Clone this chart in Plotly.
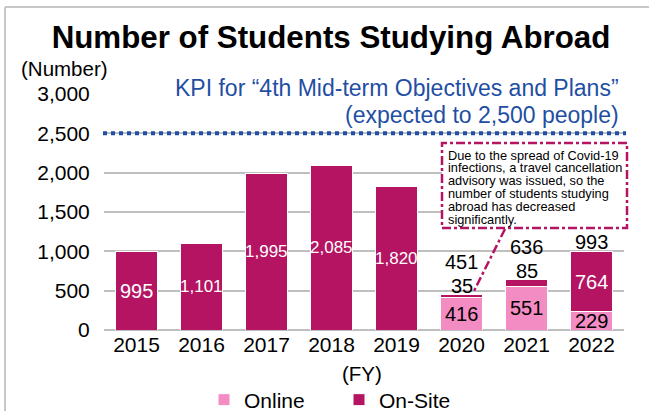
import plotly.graph_objects as go

years = ["2015", "2016", "2017", "2018", "2019", "2020", "2021", "2022"]
online = [0, 0, 0, 0, 0, 416, 551, 229]
onsite = [995, 1101, 1995, 2085, 1820, 35, 85, 764]
totals = [995, 1101, 1995, 2085, 1820, 451, 636, 993]
kpi_target = 2500
y_ticks = [0, 500, 1000, 1500, 2000, 2500, 3000]

note_lines = [
    "Due to the spread of Covid-19",
    "infections, a travel cancellation",
    "advisory was issued, so the",
    "number of students studying",
    "abroad has decreased",
    "significantly.",
]

MAGENTA = "rgb(180,20,98)"
PINK = "rgb(244,140,196)"
BLUE = "#1F4FA3"
GRID = "#BFBFBF"
FONT = "Arial, Liberation Sans, sans-serif"

# plot-area pixel geometry (for decorative items only)
L, R, T, B = 104, 624, 94, 330
W, H = R - L, B - T


def pxx(x):
    return (x - L) / W


def pxy(y):
    return (B - y) / H


fig = go.Figure()
fig.add_trace(go.Bar(x=years, y=online, name="Online",
                     marker=dict(color=PINK, line=dict(color="white", width=1))))
fig.add_trace(go.Bar(x=years, y=onsite, name="On-Site",
                     marker=dict(color=MAGENTA, line=dict(color="white", width=1))))

ann = []
for i, yr in enumerate(years):
    # category index i is used as annotation x (numeric strings would be read as indices)
    if online[i] > 0:
        ann.append(dict(x=i, y=online[i] / 2, text=str(online[i]), showarrow=False,
                        font=dict(size=20, color="black", family=FONT)))
    if onsite[i] >= 500:
        txt = f"{onsite[i]:,}"
        ann.append(dict(x=i, y=online[i] + onsite[i] / 2, text=txt, showarrow=False,
                        font=dict(size=20 if len(txt) <= 3 else 17, color="white", family=FONT)))
        if online[i] > 0:
            ann.append(dict(x=i, y=totals[i], text=f"{totals[i]:,}", showarrow=False, yanchor="middle",
                            yshift=10, font=dict(size=20, color="black", family=FONT)))
    else:
        ann.append(dict(x=i, y=totals[i], text=str(onsite[i]), showarrow=False, yanchor="middle",
                        yshift=9, font=dict(size=20, color="black", family=FONT)))
        ann.append(dict(x=i, y=totals[i], text=f"{totals[i]:,}", showarrow=False, yanchor="middle",
                        yshift=33, font=dict(size=20, color="black", family=FONT)))

# KPI text
ann.append(dict(xref="paper", yref="paper", x=pxx(621), y=pxy(88), xanchor="right", yanchor="middle",
                text="KPI for \u201c4th Mid-term Objectives and Plans\u201d", showarrow=False,
                font=dict(size=23, color=BLUE, family=FONT)))
ann.append(dict(xref="paper", yref="paper", x=pxx(621), y=pxy(115), xanchor="right", yanchor="middle",
                text="(expected to 2,500 people)", showarrow=False,
                font=dict(size=23, color=BLUE, family=FONT)))

# note text
for k, line in enumerate(note_lines):
    ann.append(dict(xref="paper", yref="paper", x=pxx(446), y=pxy(155 + 12.8 * k), xanchor="left",
                    yanchor="middle", text=line, showarrow=False,
                    font=dict(size=12.8, color="black", family=FONT)))

# axis captions
ann.append(dict(xref="paper", yref="paper", x=pxx(64), y=pxy(68), text="(Number)", showarrow=False,
                xanchor="center", yanchor="middle", font=dict(size=20.5, color="black", family=FONT)))
ann.append(dict(xref="paper", yref="paper", x=pxx(362), y=pxy(373), text="(FY)", showarrow=False,
                xanchor="center", yanchor="middle", font=dict(size=20.5, color="black", family=FONT)))

shapes = [
    # KPI dotted line
    dict(type="line", xref="paper", yref="y", x0=pxx(103), x1=pxx(626), y0=kpi_target, y1=kpi_target,
         line=dict(color=BLUE, width=4, dash="dot"), layer="above"),
    # note box
    dict(type="rect", xref="paper", yref="paper", x0=pxx(442), x1=pxx(627), y0=pxy(228), y1=pxy(143),
         line=dict(color=MAGENTA, width=2.5, dash="dashdot"), fillcolor="white", layer="above"),
    # leader line
    dict(type="line", xref="paper", yref="paper", x0=pxx(505), y0=pxy(229), x1=pxx(474), y1=pxy(291),
         line=dict(color=MAGENTA, width=2.5, dash="dashdot")),
    # outer frame
    dict(type="line", xref="paper", yref="paper", x0=pxx(5), x1=pxx(5), y0=pxy(7), y1=pxy(420),
         line=dict(color="#C8C8C8", width=2)),
    dict(type="line", xref="paper", yref="paper", x0=pxx(5), x1=pxx(660), y0=pxy(7), y1=pxy(7),
         line=dict(color="#C8C8C8", width=2)),
]

fig.update_layout(
    width=649, height=411,
    margin=dict(l=L, r=649 - R, t=T, b=411 - B, autoexpand=False),
    paper_bgcolor="white", plot_bgcolor="white",
    barmode="stack", bargap=0.34,
    font=dict(family=FONT, color="black"),
    title=dict(text="<b>Number of Students Studying Abroad</b>", x=331 / 649, xanchor="center",
               y=1 - 37 / 411, yanchor="middle",
               font=dict(size=31.3, color="black", family=FONT)),
    xaxis=dict(type="category", categoryorder="array", categoryarray=years, range=[-0.5, 7.5],
               showgrid=False, showline=False, ticks="", tickfont=dict(size=21, color="black")),
    yaxis=dict(range=[0, 3000], tickvals=y_ticks, tickformat=",", showgrid=True, gridcolor=GRID,
               gridwidth=2, zeroline=True, zerolinecolor=GRID, zerolinewidth=2, showline=False,
               ticks="outside", ticklen=9, tickcolor="rgba(0,0,0,0)",
               tickfont=dict(size=21, color="black")),
    legend=dict(orientation="h", traceorder="normal", x=pxx(204), xanchor="left", y=pxy(400),
                yanchor="middle", font=dict(size=21, color="black"), itemwidth=30,
                entrywidth=90, entrywidthmode="pixels", bgcolor="rgba(0,0,0,0)"),
    annotations=ann,
    shapes=shapes,
    showlegend=True,
)

fig.write_html("out.html", config={"displayModeBar": False},
               post_script="document.body.style.margin='0px';")
